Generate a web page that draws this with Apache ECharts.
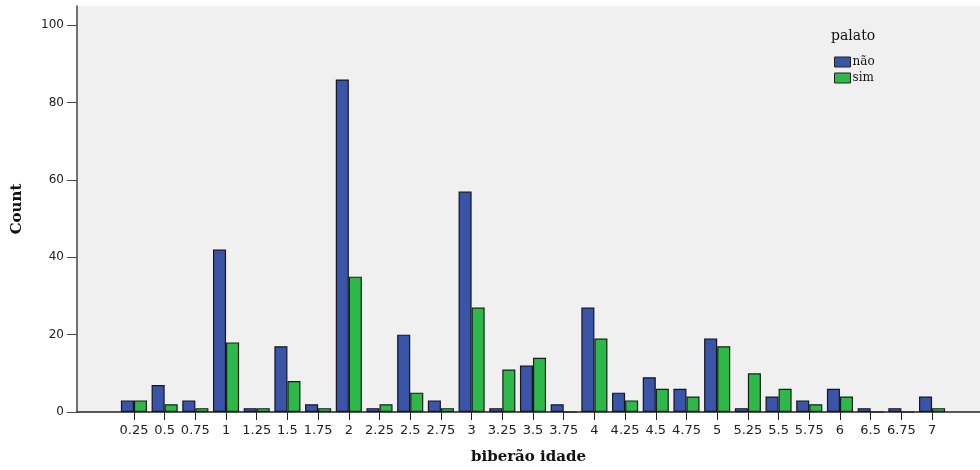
<!DOCTYPE html>
<html>
<head>
<meta charset="utf-8">
<script src="https://cdn.jsdelivr.net/npm/echarts@6/dist/echarts.min.js"></script>
<style>html,body{margin:0;padding:0;background:#fff;}#c{width:980px;height:470px;}</style>
</head>
<body>
<div id="c"></div>
<script>
const categories = ['0.25','0.5','0.75','1','1.25','1.5','1.75','2','2.25','2.5','2.75','3','3.25','3.5','3.75','4','4.25','4.5','4.75','5','5.25','5.5','5.75','6','6.5','6.75','7'];
const naoValues = [3,7,3,42,1,17,2,86,1,20,3,57,1,12,2,27,5,9,6,19,1,4,3,6,1,1,4];
const simValues = [3,2,1,18,1,8,1,35,2,5,1,27,11,14,0,19,3,6,4,17,10,6,2,4,0,0,1];
const yTicks = [0,20,40,60,80,100];

const chart = echarts.init(document.getElementById('c'));
const sans = 'DejaVu Sans';
const serif = 'DejaVu Serif';
chart.setOption({
  animation: false,
  backgroundColor: '#ffffff',
  grid: [
    {left: 77, right: 0, top: 6, bottom: 58, show: true, backgroundColor: '#f0f0f0', borderWidth: 0, outerBoundsMode: 'none', containLabel: false},
    {left: 118.6, right: 32.6, top: 6, bottom: 58, outerBoundsMode: 'none', containLabel: false}
  ],
  legend: {
    orient: 'vertical', left: 829, top: 51, itemWidth: 16, itemHeight: 10, itemGap: 4,
    icon: 'rect',
    textStyle: {fontFamily: serif, fontSize: 12, color: '#111', padding: [0,0,0,-3]},
    itemStyle: {borderColor: '#222', borderWidth: 1},
    data: ['não', 'sim']
  },
  graphic: [
    {type: 'text', left: 831, top: 29, style: {text: 'palato', fontFamily: serif, fontSize: 14, fill: '#111'}}
  ],
  xAxis: [
    {type: 'value', gridIndex: 0, min: 0, max: 1, show: true,
     axisLine: {show: true, onZero: false, lineStyle: {color: '#222', width: 1.5}},
     axisTick: {show: false}, axisLabel: {show: false}, splitLine: {show: false},
     name: 'biberão idade', nameLocation: 'middle', nameGap: 38,
     nameTextStyle: {fontFamily: serif, fontWeight: 'bold', fontSize: 15, color: '#111'}},
    {type: 'category', gridIndex: 1, data: categories,
     axisLine: {show: false},
     axisTick: {show: true, alignWithLabel: true, length: 8, lineStyle: {color: '#222'}},
     axisLabel: {fontFamily: sans, fontSize: 13, color: '#222', margin: 12, interval: 0},
     splitLine: {show: false}}
  ],
  yAxis: [
    {type: 'value', gridIndex: 0, min: 0, max: 105, interval: 20,
     axisLine: {show: true, lineStyle: {color: '#444', width: 1.5}},
     axisTick: {show: true, length: 10, lineStyle: {color: '#444'}},
     axisLabel: {fontFamily: sans, fontSize: 12, color: '#222', margin: 13, showMaxLabel: false},
     splitLine: {show: false},
     name: 'Count', nameLocation: 'middle', nameGap: 52,
     nameTextStyle: {fontFamily: serif, fontWeight: 'bold', fontSize: 15, color: '#111'}},
    {type: 'value', gridIndex: 1, min: 0, max: 105, show: false}
  ],
  series: [
    {name: 'não', type: 'bar', xAxisIndex: 1, yAxisIndex: 1, data: naoValues,
     barGap: '0%', barCategoryGap: '15%',
     itemStyle: {color: '#3a55a8', borderColor: '#151520', borderWidth: 1.2}},
    {name: 'sim', type: 'bar', xAxisIndex: 1, yAxisIndex: 1, data: simValues,
     barGap: '0%', barCategoryGap: '15%',
     itemStyle: {color: '#2eb84a', borderColor: '#152015', borderWidth: 1.2}}
  ]
});
</script>
</body>
</html>
